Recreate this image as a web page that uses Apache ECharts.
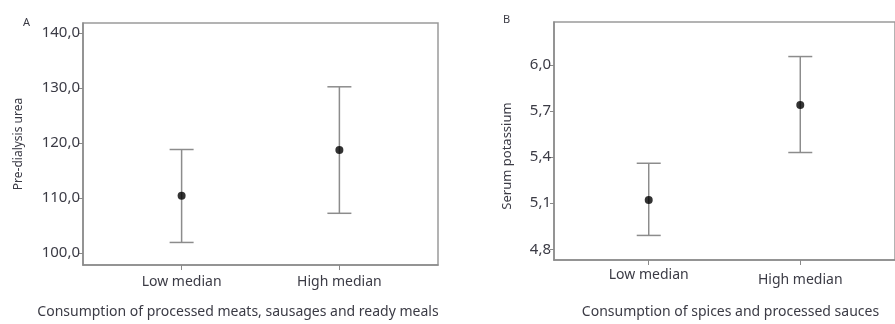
<!DOCTYPE html>
<html><head><meta charset="utf-8">
<script src="https://cdn.jsdelivr.net/npm/echarts@6/dist/echarts.min.js"></script>
<style>html,body{margin:0;padding:0;background:#fff}#c{width:895px;height:324px}</style>
</head><body><div id="c"></div>
<script>
const categories = ['Low median', 'High median'];
// Panel A: pre-dialysis urea
const ureaMean = [110.4, 118.7];
const ureaLow = [101.9, 107.2];
const ureaHigh = [118.8, 130.2];
const ureaTicks = [100, 110, 120, 130, 140];
// Panel B: serum potassium
const kMean = [5.12, 5.74];
const kLow = [4.89, 5.43];
const kHigh = [5.36, 6.055];
const kTicks = [4.8, 5.1, 5.4, 5.7, 6.0];

const FONT = 'Noto Sans';
const TXT = '#3b3b45';
const AX = '#8a8a8a';

function fmt(v){ return v.toFixed(1).replace('.', ','); }
function catFmt(v){ const i = Math.round(v) - 1; return categories[i] ? '{c' + i + '|' + categories[i] + '}' : ''; }

function xAxis(gi, name, namePad, nameGap, margin, pads){
  return {
    type: 'value', gridIndex: gi, min: 0.375, max: 2.625,
    axisLine: {show: true, lineStyle: {color: AX, width: 1.5}},
    axisTick: {show: true, length: 5, customValues: [1, 2], lineStyle: {color: AX}},
    axisLabel: {customValues: [1, 2], formatter: catFmt, color: TXT, fontFamily: FONT, fontSize: 14, margin: margin,
      rich: {
        c0: {color: TXT, fontFamily: FONT, fontSize: 14, padding: [pads[0], 0, 0, 0]},
        c1: {color: TXT, fontFamily: FONT, fontSize: 14, padding: [pads[1], 0, 0, 0]}
      }},
    splitLine: {show: false},
    name: name, nameLocation: 'middle', nameGap: nameGap,
    nameTextStyle: {color: TXT, fontFamily: FONT, fontSize: 14, padding: namePad}
  };
}
function yAxis(gi, min, max, ticks, name, nameGap, nameSize, namePad){
  return {
    type: 'value', gridIndex: gi, min: min, max: max,
    axisLine: {show: true, lineStyle: {color: AX, width: 1.5}},
    axisTick: {show: true, length: 4, customValues: ticks, lineStyle: {color: AX}},
    axisLabel: {customValues: ticks, formatter: fmt, color: TXT, fontFamily: FONT, fontSize: 15, margin: 3},
    splitLine: {show: false},
    name: name, nameLocation: 'middle', nameGap: nameGap,
    nameTextStyle: {color: TXT, fontFamily: FONT, fontSize: nameSize, padding: namePad}
  };
}

function errData(lo, hi){ return categories.map((c, i) => [i + 1, lo[i], hi[i]]); }
function meanData(m){ return categories.map((c, i) => [i + 1, m[i]]); }

function renderErr(params, api){
  const x = api.value(0);
  const p1 = api.coord([x, api.value(1)]);
  const p2 = api.coord([x, api.value(2)]);
  const hw = 12;
  const st = {stroke: '#8c8c8c', lineWidth: 1.5};
  return {type: 'group', children: [
    {type: 'line', shape: {x1: p1[0], y1: p1[1], x2: p2[0], y2: p2[1]}, style: st},
    {type: 'line', shape: {x1: p1[0] - hw, y1: p1[1], x2: p1[0] + hw, y2: p1[1]}, style: st},
    {type: 'line', shape: {x1: p2[0] - hw, y1: p2[1], x2: p2[0] + hw, y2: p2[1]}, style: st}
  ]};
}

const chart = echarts.init(document.getElementById('c'));
chart.setOption({
  animation: false,
  backgroundColor: '#fff',
  title: [
    {text: 'A', left: 18, top: 12, textStyle: {color: TXT, fontFamily: FONT, fontSize: 11, fontWeight: 'normal'}},
    {text: 'B', left: 498, top: 9, textStyle: {color: TXT, fontFamily: FONT, fontSize: 11, fontWeight: 'normal'}}
  ],
  grid: [
    {left: 83, top: 23, width: 355, height: 243, show: true, borderColor: '#9a9a9a', borderWidth: 1.5, containLabel: false},
    {left: 554, top: 22, width: 355, height: 241, show: true, borderColor: '#9a9a9a', borderWidth: 1.5, containLabel: false}
  ],
  xAxis: [
    xAxis(0, 'Consumption of processed meats, sausages and ready meals', [0, 45, 0, 0], 40, 10, [0, 0]),
    xAxis(1, 'Consumption of spices and processed sauces', [0, 0, 0, 12], 45, 8, [0, 5])
  ],
  yAxis: [
    yAxis(0, 97.8, 141.8, ureaTicks, 'Pre-dialysis urea', 58, 12, [0, 0, 0, 0]),
    yAxis(1, 4.73, 6.28, kTicks, 'Serum potassium', 40, 13, [0, 30, 0, 0])
  ],
  series: [
    {type: 'custom', xAxisIndex: 0, yAxisIndex: 0, renderItem: renderErr, data: errData(ureaLow, ureaHigh), z: 2},
    {type: 'scatter', xAxisIndex: 0, yAxisIndex: 0, data: meanData(ureaMean), symbolSize: 8, itemStyle: {color: '#000'}, z: 3},
    {type: 'custom', xAxisIndex: 1, yAxisIndex: 1, renderItem: renderErr, data: errData(kLow, kHigh), z: 2},
    {type: 'scatter', xAxisIndex: 1, yAxisIndex: 1, data: meanData(kMean), symbolSize: 8, itemStyle: {color: '#000'}, z: 3}
  ]
});
</script></body></html>
